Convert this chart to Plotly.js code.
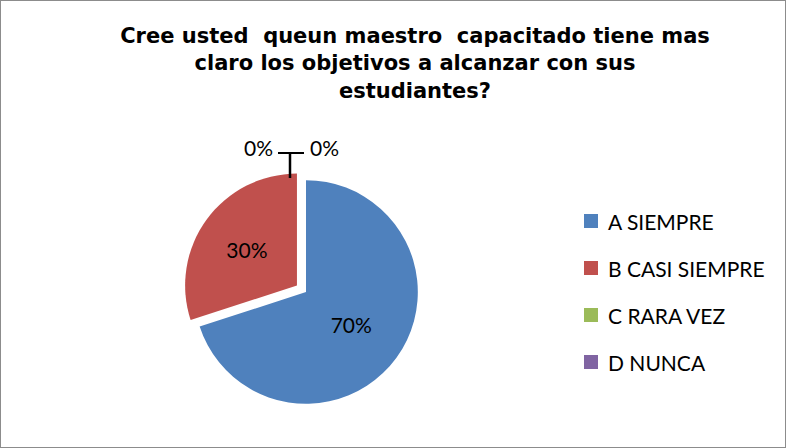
<!DOCTYPE html>
<html>
<head>
<meta charset="utf-8">
<script src="https://cdn.plot.ly/plotly-3.0.1.min.js"></script>
<style>
  html, body { margin: 0; padding: 0; background: #fff; }
  #frame { position: absolute; left: 0; top: 0; width: 784px; height: 446px; border: 1px solid #8c8c8c; }
  #chart { width: 784px; height: 446px; }
</style>
</head>
<body>
<div id="frame"><div id="chart"></div></div>
<script>
// ---- data ----
const categories = ["A SIEMPRE", "B CASI SIEMPRE", "C RARA VEZ", "D NUNCA"];
const values = [70, 30, 0, 0];
const colors = ["#4F81BD", "#C0504D", "#9BBB59", "#8064A2"];
const pulls = [0, 0.1, 0, 0];
const titleText = "Cree usted  queun maestro  capacitado tiene mas<br>claro los objetivos a alcanzar con sus<br>estudiantes?";

const W = 784, H = 446;
const total = values.reduce((a, b) => a + b, 0);

// pie geometry (domain)
const cx = 305, cy = 291, half = 123;
const domain = {
  x: [(cx - half) / W, (cx + half) / W],
  y: [(H - cy - half) / H, (H - cy + half) / H]
};

const trace = {
  type: "pie",
  labels: categories,
  values: values,
  sort: false,
  direction: "clockwise",
  rotation: 0,
  pull: pulls,
  marker: { colors: colors, line: { width: 0 } },
  textinfo: "percent",
  texttemplate: "%{percent:.0%}",
  textposition: "inside",
  insidetextorientation: "horizontal",
  textfont: { family: "Lato, 'Open Sans', sans-serif", size: 21, color: "#000" },
  domain: domain,
  showlegend: false,
  hoverinfo: "label+percent"
};

// manual legend (spacing like the reference)
const annotations = [];
const shapes = [];
const legX = 583, legTop = 220, legStep = 47, sq = 14;
categories.forEach((c, i) => {
  const yc = legTop + i * legStep;
  shapes.push({
    type: "rect", xref: "paper", yref: "paper",
    x0: legX / W, x1: (legX + sq) / W,
    y0: 1 - (yc + sq / 2) / H, y1: 1 - (yc - sq / 2) / H,
    fillcolor: colors[i], line: { width: 0 }
  });
  annotations.push({
    xref: "paper", yref: "paper",
    x: (legX + sq + 8) / W, y: 1 - yc / H,
    xanchor: "left", yanchor: "middle",
    text: c, showarrow: false,
    font: { family: "Lato, 'Open Sans', sans-serif", size: 21, color: "#000" }
  });
});

// labels for zero-valued slices (not drawn by the pie itself)
const zeroIdx = values.map((v, i) => v === 0 ? i : -1).filter(i => i >= 0);
const zeroPos = [{ x: 257, y: 147 }, { x: 323, y: 147 }];
zeroIdx.forEach((idx, k) => {
  const p = zeroPos[k % zeroPos.length];
  annotations.push({
    xref: "paper", yref: "paper",
    x: p.x / W, y: 1 - p.y / H,
    xanchor: "center", yanchor: "middle",
    text: Math.round(values[idx] / total * 100) + "%", showarrow: false,
    font: { family: "Lato, 'Open Sans', sans-serif", size: 21, color: "#000" }
  });
});
// leader lines (T)
shapes.push({ type: "line", xref: "paper", yref: "paper",
  x0: 277 / W, x1: 303 / W, y0: 1 - 152 / H, y1: 1 - 152 / H,
  line: { color: "#000", width: 2 } });
shapes.push({ type: "line", xref: "paper", yref: "paper",
  x0: 289 / W, x1: 289 / W, y0: 1 - 152 / H, y1: 1 - 177 / H,
  line: { color: "#000", width: 2.5 } });

const layout = {
  width: W, height: H,
  margin: { l: 0, r: 0, t: 0, b: 0 },
  paper_bgcolor: "#fff",
  title: {
    text: titleText,
    x: 414 / W, xanchor: "center",
    y: 1 - 42 / H, yanchor: "top",
    yref: "container",
    font: { family: "'DejaVu Sans', 'Liberation Sans', Arial, sans-serif", size: 21, color: "#000", weight: "bold" }
  },
  showlegend: false,
  annotations: annotations,
  shapes: shapes
};

Plotly.newPlot("chart", [trace], layout, { displayModeBar: false, staticPlot: true });
</script>
</body>
</html>
